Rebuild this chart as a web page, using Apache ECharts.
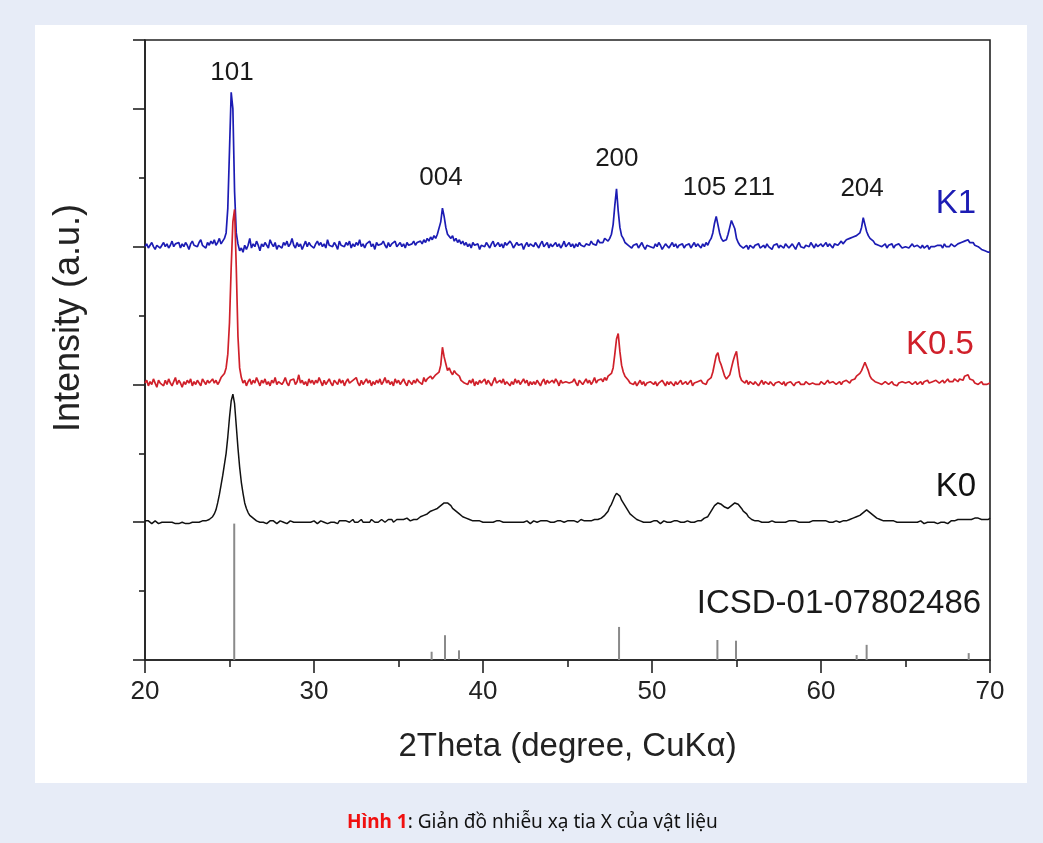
<!DOCTYPE html>
<html>
<head>
<meta charset="utf-8">
<script src="https://cdn.jsdelivr.net/npm/echarts@6/dist/echarts.min.js"></script>
<style>
  html, body { margin: 0; padding: 0; background: #e7ecf7; }
  #panel { position: absolute; left: 35px; top: 25px; width: 992px; height: 758px; background: #fff; }
  #chart { position: absolute; left: 0; top: 0; width: 1043px; height: 843px; }
  #caption { position: absolute; left: 347px; top: 808px; font: 19px "Noto Sans", sans-serif; color: #111; white-space: nowrap; }
  #caption b { color: #f01010; }
</style>
</head>
<body>
<div id="panel"></div>
<div id="chart"></div>
<div id="caption"><b>Hình 1</b>: Giản đồ nhiễu xạ tia X của vật liệu</div>
<script>
// scan 20..70 deg, 0.1 deg step; counts in 0.01 a.u. above each pattern's baseline
const scanStart = 20;
const scanStep = 0.1;

const k1Counts = [
  0, 2, -1, 1, 3, 0, -2, 1, 2, -1,
  1, 3, 0, 2, -1, 1, 4, 0, 2, 1,
  3, -1, 2, 0, 3, 1, -2, 2, 4, 1,
  2, 0, 3, 5, 1, 2, -1, 3, 1, 4,
  2, 5, 1, 3, 6, 2, 4, 6, 10, 28,
  70, 112, 100, 40, 10, 2, -3, -1, -4, 1,
  -2, 1, 6, -1, 2, 0, 4, 1, -3, 2,
  0, 3, 1, -1, 5, 2, 0, 3, -2, 1,
  2, -1, 3, 1, 4, 0, 2, 6, 1, -1,
  3, 0, 2, -2, 1, 4, 0, 3, 1, 2,
  -1, 2, 4, 1, 3, 0, 2, -1, 5, 1,
  2, 0, 3, 1, -2, 4, 1, 2, 0, 3,
  1, 4, -1, 2, 0, 3, 1, 5, 0, 2,
  -1, 2, 1, 4, 0, 2, -2, 3, 1, 0,
  2, 4, 1, -1, 3, 0, 2, 1, 4, 0,
  1, 3, 0, 2, -1, 3, 1, 0, 2, 4,
  1, 3, 2, 4, 2, 5, 3, 6, 4, 7,
  5, 8, 6, 9, 10, 18, 28, 22, 14, 9,
  10, 6, 8, 4, 6, 3, 5, 2, 4, 1,
  3, 0, 2, -1, 3, 1, 0, 2, -2, 1,
  2, 0, 3, 1, -1, 2, 4, 0, 1, 3,
  0, 2, -1, 3, 1, 0, 4, 2, -1, 1,
  3, 1, 0, 2, -2, 1, 3, 0, 2, 1,
  0, 3, 1, -1, 2, 4, 0, 1, 3, -1,
  2, 0, 1, 3, 0, 2, -1, 1, 4, 0,
  1, 3, 0, 2, -1, 2, 0, 3, 1, 2,
  0, 2, 3, 1, 4, 2, 3, 1, 5, 3,
  4, 3, 6, 5, 4, 6, 9, 16, 30, 42,
  26, 14, 8, 6, 3, 4, 1, 2, -1, 1,
  0, 2, -1, 1, 3, 0, -2, 1, 2, 0,
  1, -1, 2, 0, 3, 1, -2, 0, 2, 1,
  -1, 1, 3, 0, 2, -1, 1, 0, 2, -1,
  1, 0, 2, -1, 1, 3, 0, 2, 1, -1,
  2, 0, 3, 1, 4, 6, 10, 17, 22, 16,
  10, 6, 4, 3, 5, 9, 14, 19, 20, 13,
  6, 3, 1, 2, -1, 0, 1, -2, 1, 0,
  -1, 1, 0, 2, -1, 0, 1, -1, 2, 0,
  0, -2, 1, 0, 2, -1, 1, 0, -1, 2,
  1, -1, 0, 2, 0, -2, 1, 3, 0, 1,
  -1, 1, 2, 0, 3, 1, -1, 2, 0, 1,
  2, 0, 1, 3, 0, 2, 1, -1, 2, 3,
  1, 2, 4, 2, 3, 5, 4, 6, 5, 7,
  6, 8, 7, 10, 14, 21, 16, 11, 8, 6,
  5, 4, 2, 3, 1, 2, 0, 1, 2, -1,
  1, 0, 2, -1, 1, 0, 2, 1, -1, 0,
  0, 1, -1, 0, 2, 0, -1, 1, 0, -1,
  1, -1, 0, 1, -2, 0, 1, 0, -1, 1,
  0, 1, -1, 2, 0, 1, 0, 2, 1, 0,
  1, 2, 1, 3, 2, 4, 3, 5, 3, 2,
  3, 1, 2, 0, -1, -2, -1, -3, -2, -4,
  -4
];

const k05Counts = [
  1, 3, -1, 2, 0, 4, 1, -2, 3, 1,
  2, -1, 3, 0, 4, 1, -1, 2, 5, 0,
  3, 1, -2, 2, 0, 3, 1, 4, -1, 2,
  0, 3, 1, -1, 4, 2, 0, 3, 1, 2,
  4, 1, 3, 0, 2, 5, 5, 8, 12, 22,
  45, 85, 118, 127, 85, 35, 12, 5, 1, 3,
  -1, 2, 4, 0, 3, 1, 5, 2, -1, 3,
  1, 4, 0, 2, -1, 3, 1, 5, 0, 2,
  3, 0, 2, 5, 1, -1, 3, 2, 4, 0,
  2, 7, 1, 3, 0, 2, -1, 4, 1, 3,
  0, 3, 1, 5, 2, -1, 3, 0, 2, 4,
  1, -1, 3, 2, 0, 4, 1, 3, -1, 2,
  4, 1, 0, 3, 2, 5, 1, -1, 3, 0,
  2, 4, 1, 3, -1, 2, 0, 3, 1, 4,
  0, 2, 5, 1, 3, 0, 2, -1, 4, 1,
  3, 0, 2, 4, 1, -1, 3, 2, 0, 3,
  1, 4, 2, 3, 0, 5, 2, 4, 3, 6,
  4, 5, 7, 6, 9, 14, 27, 20, 15, 10,
  12, 9, 7, 10, 8, 9, 6, 3, 4, 1,
  2, 0, 3, 1, 4, -1, 2, 0, 3, 1,
  2, 4, 0, 3, 1, -1, 2, 5, 1, 0,
  3, 1, 4, 0, 2, 3, -1, 2, 0, 4,
  1, 3, 0, 2, 4, 1, 3, -1, 2, 0,
  2, 0, 3, 1, -1, 2, 4, 0, 3, 1,
  0, 3, 1, 4, 2, -1, 3, 1, 0, 2,
  3, 1, 0, 2, 4, 1, -1, 3, 2, 0,
  2, 4, 1, 3, 0, 2, 5, 1, 3, 2,
  4, 2, 5, 3, 6, 5, 8, 12, 22, 33,
  37, 24, 14, 9, 6, 5, 3, 1, 2, 0,
  2, -1, 1, 3, 0, 2, -1, 1, 0, 2,
  1, 0, 2, -1, 1, 0, 3, 1, -1, 2,
  0, 2, 1, -1, 2, 0, 1, 3, 0, 1,
  2, 0, 1, 3, -1, 1, 0, 2, 1, 3,
  1, 2, 0, 3, 2, 5, 9, 15, 21, 23,
  17, 14, 10, 6, 4, 4, 7, 12, 17, 21,
  24, 14, 6, 3, 2, 1, 3, 0, 2, 1,
  0, 2, 1, -1, 1, 3, 0, 2, 1, 0,
  2, 1, -1, 1, 0, 2, 1, 0, 2, -1,
  1, 0, 2, 1, -1, 1, 0, 2, 0, 1,
  0, 2, 1, 0, -1, 1, 2, 0, 1, 0,
  2, 1, 0, 1, 3, 1, 0, 2, 1, 0,
  1, 2, 0, 2, 1, 3, 2, 1, 3, 4,
  4, 6, 5, 8, 10, 13, 16, 13, 10, 6,
  4, 3, 2, 2, 1, 2, 0, 1, 2, 1,
  0, 1, 2, 0, 1, -1, 1, 0, 2, 1,
  1, 0, 2, 1, 0, 1, 2, 0, 1, 2,
  0, 2, 1, 3, 1, 0, 2, 1, 3, 2,
  1, 2, 3, 1, 2, 4, 2, 3, 2, 4,
  3, 2, 4, 5, 3, 6, 5, 7, 4, 3,
  3, 1, 2, 0, 1, 2, 0, 1, 0, 1,
  1
];

const k0Counts = [
  1, 0, 1, 0, -1, 0, 1, 0, -1, 0,
  0, 1, 0, -1, 0, -1, 0, 0, -1, 0,
  -1, 0, 0, -1, -1, 0, -1, 0, 0, -1,
  0, -1, 0, 0, 1, 1, 1, 2, 2, 3,
  4, 6, 9, 14, 20, 27, 34, 42, 50, 62,
  76, 88, 93, 86, 70, 54, 40, 29, 21, 14,
  10, 7, 5, 4, 3, 2, 1, 2, 0, 1,
  0, 1, -1, 0, 1, 0, 1, 0, -1, 0,
  1, 0, 0, 1, -1, 0, 1, 1, 0, -1,
  0, 1, 0, -1, 0, 1, 0, 1, 0, 0,
  1, 0, -1, 0, 1, 0, 0, 1, -1, 0,
  0, 1, 0, 0, -1, 1, 0, 1, 0, 1,
  1, 0, 1, 2, 0, 1, 0, 1, 2, 0,
  1, 0, 1, 0, 2, 1, 0, 1, 0, 1,
  2, 1, 0, 1, 2, 1, 2, 0, 1, 2,
  1, 2, 1, 2, 1, 3, 2, 1, 2, 2,
  3, 2, 3, 4, 3, 5, 6, 6, 7, 8,
  8, 9, 9, 10, 11, 12, 13, 14, 15, 14,
  13, 12, 10, 9, 8, 7, 6, 5, 4, 3,
  3, 2, 2, 1, 1, 0, 1, 0, 1, 0,
  0, 1, 0, -1, 0, 1, 0, 0, 1, 0,
  1, 0, 0, 1, 0, -1, 0, 1, 0, 0,
  0, 1, 0, 1, 0, 0, 1, 0, -1, 0,
  1, 0, 0, 1, 1, 0, 1, 0, 1, 0,
  0, 1, 0, 0, 1, 0, 1, 1, 0, 1,
  1, 0, 1, 0, 1, 1, 0, 1, 2, 1,
  1, 2, 1, 2, 1, 2, 2, 3, 2, 3,
  3, 4, 5, 6, 8, 11, 13, 16, 19, 21,
  21, 19, 16, 14, 12, 10, 8, 6, 5, 4,
  3, 2, 2, 1, 1, 0, 1, 0, 1, 0,
  0, 1, 0, 1, 0, -1, 0, 1, 0, 0,
  1, 0, 0, 1, 0, 1, 0, 0, 1, 0,
  0, 1, 1, 0, 1, 0, 1, 1, 2, 1,
  2, 3, 3, 4, 6, 8, 10, 12, 13, 14,
  14, 13, 12, 11, 10, 10, 11, 12, 13, 14,
  14, 13, 12, 10, 8, 7, 6, 4, 3, 2,
  1, 1, 0, 1, 0, 0, 1, 0, -1, 0,
  0, 1, 0, 0, 1, 0, -1, 0, 1, 0,
  0, 1, 0, 1, 0, 1, 0, 0, 1, 0,
  1, 0, 1, 0, 0, 1, 0, 1, 0, 1,
  0, 1, 0, 1, 1, 0, 1, 0, 1, 1,
  1, 0, 1, 1, 2, 1, 2, 2, 3, 3,
  3, 4, 4, 5, 6, 7, 8, 9, 8, 7,
  6, 5, 4, 3, 3, 2, 2, 1, 1, 1,
  0, 1, 0, 1, 0, 0, 1, 0, 1, 0,
  0, 0, 1, 0, -1, 0, 1, 0, 0, 1,
  0, -1, 0, 0, 1, 0, -1, 0, 0, -1,
  0, 0, -1, 0, 0, -1, 0, 1, 0, 1,
  1, 2, 1, 2, 3, 2, 3, 2, 3, 2,
  2, 3, 2, 3, 2, 2, 3, 2, 3, 2,
  3
];

const sampleNames = ['K1', 'K0.5', 'K0'];
const sampleOffsets = [3, 2, 1];
const sampleColors = ['#1c1cb4', '#d0202a', '#111111'];
const sampleLabelX = [67.99, 67.04, 67.99];
const sampleLabelY = [3.31, 2.29, 1.255];

// reference pattern ICSD-01-07802486 (anatase)
const refName = 'ICSD-01-07802486';
const refLabelPos = [61.06, 0.41];
const refPeakPos = [25.28, 36.96, 37.75, 38.58, 48.05, 53.87, 54.97, 62.11, 62.7, 68.74];
const refPeakHeight = [0.99, 0.06, 0.18, 0.07, 0.24, 0.145, 0.14, 0.036, 0.11, 0.05];

const hklLabels = ['101', '004', '200', '105 211', '204'];
const hklX = [25.15, 37.51, 47.92, 54.55, 62.43];
const hklY = [4.26, 3.50, 3.64, 3.43, 3.42];

const FONT = '"Liberation Sans", Arial, sans-serif';

function toSeriesData(counts, offset) {
  return counts.map((c, i) => [scanStart + i * scanStep, offset + c / 100]);
}

const chart = echarts.init(document.getElementById('chart'), null, { renderer: 'canvas' });

const patternSeries = [k1Counts, k05Counts, k0Counts].map((counts, k) => ({
  name: sampleNames[k],
  type: 'line',
  data: toSeriesData(counts, sampleOffsets[k]),
  symbol: 'none',
  lineStyle: { color: sampleColors[k], width: k === 2 ? 1.5 : 1.7 },
  z: 3
}));

const option = {
  backgroundColor: 'transparent',
  animation: false,
  grid: {
    left: 145, right: 53, top: 40, bottom: 183,
    containLabel: false,
    outerBoundsMode: 'none',
    show: true,
    borderColor: '#222',
    borderWidth: 1.6
  },
  xAxis: {
    type: 'value',
    min: 20, max: 70, interval: 10,
    name: '2Theta (degree, CuK\u03b1)',
    nameLocation: 'middle',
    nameGap: 70,
    nameTextStyle: { fontFamily: FONT, fontSize: 33, color: '#222' },
    axisLine: { show: true, lineStyle: { color: '#222', width: 1.6 } },
    axisTick: { show: true, inside: false, length: 13, lineStyle: { color: '#222', width: 1.6 } },
    minorTick: { show: true, splitNumber: 2, length: 7, lineStyle: { color: '#222', width: 1.6 } },
    axisLabel: { fontFamily: FONT, fontSize: 26, color: '#222', margin: 19 },
    splitLine: { show: false }
  },
  yAxis: {
    type: 'value',
    min: 0, max: 4.5, interval: 1,
    name: 'Intensity (a.u.)',
    nameLocation: 'middle',
    nameGap: 58,
    nameTextStyle: { fontFamily: FONT, fontSize: 36, color: '#222', padding: [0, 0, 0, 64] },
    axisLine: { show: true, lineStyle: { color: '#222', width: 1.6 } },
    axisTick: { show: true, inside: false, length: 12, lineStyle: { color: '#222', width: 1.6 } },
    minorTick: { show: true, splitNumber: 2, length: 6, lineStyle: { color: '#222', width: 1.6 } },
    axisLabel: { show: false },
    splitLine: { show: false }
  },
  series: [
    {
      name: refName,
      type: 'bar',
      barWidth: 2,
      data: refPeakPos.map((x, i) => [x, refPeakHeight[i]]),
      itemStyle: { color: '#8a8a8a' },
      z: 2
    },
    ...patternSeries,
    {
      name: 'hkl',
      type: 'scatter',
      symbolSize: 1,
      itemStyle: { color: 'transparent', opacity: 1 },
      data: hklX.map((x, i) => ({ value: [x, hklY[i]], name: hklLabels[i] })),
      label: {
        show: true, position: 'inside', formatter: '{b}',
        fontFamily: FONT, fontSize: 26, color: '#1a1a1a', opacity: 1
      },
      z: 5
    },
    {
      name: 'sampleLabels',
      type: 'scatter',
      symbolSize: 1,
      itemStyle: { color: 'transparent', opacity: 1 },
      data: sampleNames.map((n, i) => ({
        value: [sampleLabelX[i], sampleLabelY[i]],
        name: n,
        label: { color: sampleColors[i] }
      })).concat([{ value: refLabelPos, name: refName, label: { color: '#1a1a1a', fontSize: 33 } }]),
      label: {
        show: true, position: 'inside', formatter: '{b}',
        fontFamily: FONT, fontSize: 33, opacity: 1
      },
      z: 5
    }
  ]
};

chart.setOption(option);
</script>
</body>
</html>
